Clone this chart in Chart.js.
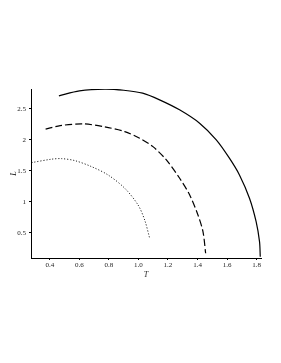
<!DOCTYPE html>
<html>
<head>
<meta charset="utf-8">
<script src="https://cdn.jsdelivr.net/npm/chart.js@4"></script>
<style>
  html, body { margin: 0; padding: 0; background: #fff; }
</style>
</head>
<body>
<canvas id="chart" width="281" height="363"></canvas>
<script>
// Values (T, L)
const solidT  = [0.461, 0.60, 0.772, 0.90, 1.028, 1.143, 1.278, 1.414, 1.527, 1.616, 1.684, 1.752, 1.797, 1.82, 1.825];
const solidL  = [2.71, 2.79, 2.818, 2.80, 2.753, 2.645, 2.484, 2.269, 2.0, 1.705, 1.435, 1.06, 0.682, 0.36, 0.118];

const dashedT = [0.371, 0.47, 0.625, 0.77, 0.907, 1.008, 1.098, 1.189, 1.279, 1.347, 1.403, 1.437, 1.455];
const dashedL = [2.173, 2.23, 2.258, 2.21, 2.134, 2.027, 1.892, 1.677, 1.382, 1.113, 0.79, 0.521, 0.173];

const dottedT = [0.276, 0.411, 0.479, 0.569, 0.682, 0.794, 0.907, 0.997, 1.042, 1.076];
const dottedL = [1.634, 1.689, 1.698, 1.666, 1.569, 1.435, 1.221, 0.952, 0.71, 0.415];

const xTicks = [0.4, 0.6, 0.8, 1.0, 1.2, 1.4, 1.6, 1.8];
const xTickLabels = ['0.4', '0.6', '0.8', '1.0', '1.2', '1.4', '1.6', '1.8'];
const yTicks = [0.5, 1, 1.5, 2, 2.5];
const yTickLabels = ['0.5', '1', '1.5', '2', '2.5'];

function toPoints(xs, ys) {
    return xs.map((x, i) => ({ x: x, y: ys[i] }));
}

const tickFont = { family: '"Liberation Serif", serif', size: 7 };
const titleFont = { family: '"Liberation Serif", serif', size: 8, style: 'italic' };

new Chart(document.getElementById('chart'), {
    type: 'scatter',
    data: {
        datasets: [{
            data: toPoints(solidT, solidL),
            showLine: true,
            borderColor: '#000',
            borderWidth: 1.2,
            pointRadius: 0,
            tension: 0.3,
        }, {
            data: toPoints(dashedT, dashedL),
            showLine: true,
            borderColor: '#000',
            borderWidth: 1.2,
            borderDash: [7, 3],
            pointRadius: 0,
            tension: 0.3,
        }, {
            data: toPoints(dottedT, dottedL),
            showLine: true,
            borderColor: '#000',
            borderWidth: 1,
            borderDash: [1, 2],
            pointRadius: 0,
            tension: 0.3,
        }]
    },
    options: {
        responsive: false,
        animation: false,
        layout: { padding: { top: 89, right: 20, bottom: 83, left: 9 } },
        plugins: { legend: { display: false }, tooltip: { enabled: false } },
        scales: {
            x: {
                type: 'linear',
                min: 0.272,
                max: 1.83,
                afterBuildTicks: s => { s.ticks = xTicks.map(v => ({ value: v })); },
                afterFit: s => { s.height = 22; },
                ticks: {
                    font: tickFont,
                    color: '#222',
                    padding: 1,
                    callback: (v) => xTickLabels[xTicks.indexOf(v)]
                },
                grid: { drawOnChartArea: false, drawTicks: true, tickLength: 2, color: '#000' },
                border: { display: true, color: '#000', width: 1 },
                title: { display: true, text: 'T', font: titleFont, color: '#222', padding: { top: -2, bottom: 0 } }
            },
            y: {
                type: 'linear',
                min: 0.097,
                max: 2.82,
                afterBuildTicks: s => { s.ticks = yTicks.map(v => ({ value: v })); },
                afterFit: s => { s.width = 22; },
                ticks: {
                    font: tickFont,
                    color: '#222',
                    padding: 3,
                    callback: (v) => yTickLabels[yTicks.indexOf(v)]
                },
                grid: { drawOnChartArea: false, drawTicks: true, tickLength: 2, color: '#000' },
                border: { display: true, color: '#000', width: 1 },
                title: { display: true, text: 'L', font: titleFont, color: '#222', padding: 0 }
            }
        }
    }
});
</script>
</body>
</html>
